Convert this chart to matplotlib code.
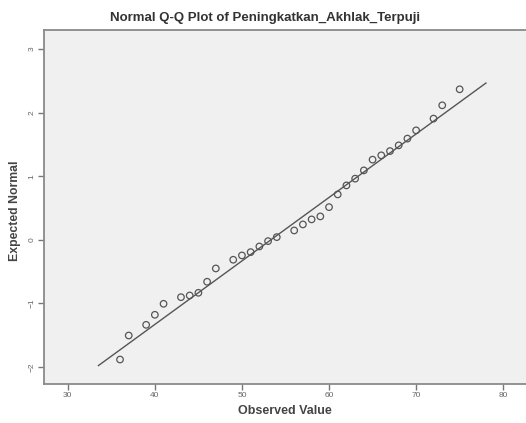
import matplotlib
matplotlib.use("Agg")
import matplotlib.pyplot as plt
import numpy as np

observed = [36, 37, 39, 40, 41, 43, 44, 45, 46, 47, 49, 50, 51, 52, 53, 54,
            56, 57, 58, 59, 60, 61, 62, 63, 64, 65, 66, 67, 68, 69, 70, 72, 73, 75]
expected = [-1.885, -1.507, -1.339, -1.181, -1.008, -0.904, -0.877, -0.835,
            -0.661, -0.452, -0.315, -0.247, -0.195, -0.106, -0.022, 0.041,
            0.146, 0.241, 0.320, 0.367, 0.513, 0.713, 0.855, 0.961, 1.091,
            1.260, 1.328, 1.395, 1.485, 1.591, 1.721, 1.906, 2.115, 2.367]
line_mean = 53.34
line_sd = 10.01
line_x = [33.52, 78.02]
xticks = [30, 40, 50, 60, 70, 80]
yticks = [-2, -1, 0, 1, 2, 3]

plt.rcParams['font.family'] = ['Liberation Sans', 'DejaVu Sans']

fig = plt.figure(figsize=(5.26, 4.23), dpi=100)
ax = fig.add_axes([44/526, 39/423, 1.002 - 44/526, (384-30)/423])
ax.set_facecolor('#f0f0f0')

lx = np.array(line_x)
ax.plot(lx, (lx - line_mean) / line_sd, color='#555555', lw=1.0, zorder=2)
ax.scatter(observed, expected, s=22, facecolors='none', edgecolors='#555555',
           linewidths=0.9, zorder=3)

ax.set_xlim(27.27, 82.74)
ax.set_ylim(-2.27, 3.30)
ax.set_xticks(xticks)
ax.set_yticks(yticks)
ax.tick_params(axis='both', length=4, width=1, color='#777777',
               labelsize=6, labelcolor='#666666', pad=2)
for lbl in ax.get_yticklabels():
    lbl.set_rotation(90)
    lbl.set_va('center')
for side in ['left', 'bottom', 'top']:
    ax.spines[side].set_color('#8a8a8a')
    ax.spines[side].set_linewidth(1.3)
ax.spines['right'].set_visible(False)

fig.text(265/526, 1 - 18/423, 'Normal Q-Q Plot of Peningkatkan_Akhlak_Terpuji',
         ha='center', va='center', fontsize=9.5, fontweight='bold', color='#333333')
fig.text(285/526, 1 - 411/423, 'Observed Value', ha='center', va='center',
         fontsize=9, fontweight='bold', color='#444444')
fig.text(15/526, 1 - 211/423, 'Expected Normal', ha='center', va='center',
         rotation=90, fontsize=8.8, fontweight='bold', color='#444444')

fig.savefig('out.png', dpi=100)
